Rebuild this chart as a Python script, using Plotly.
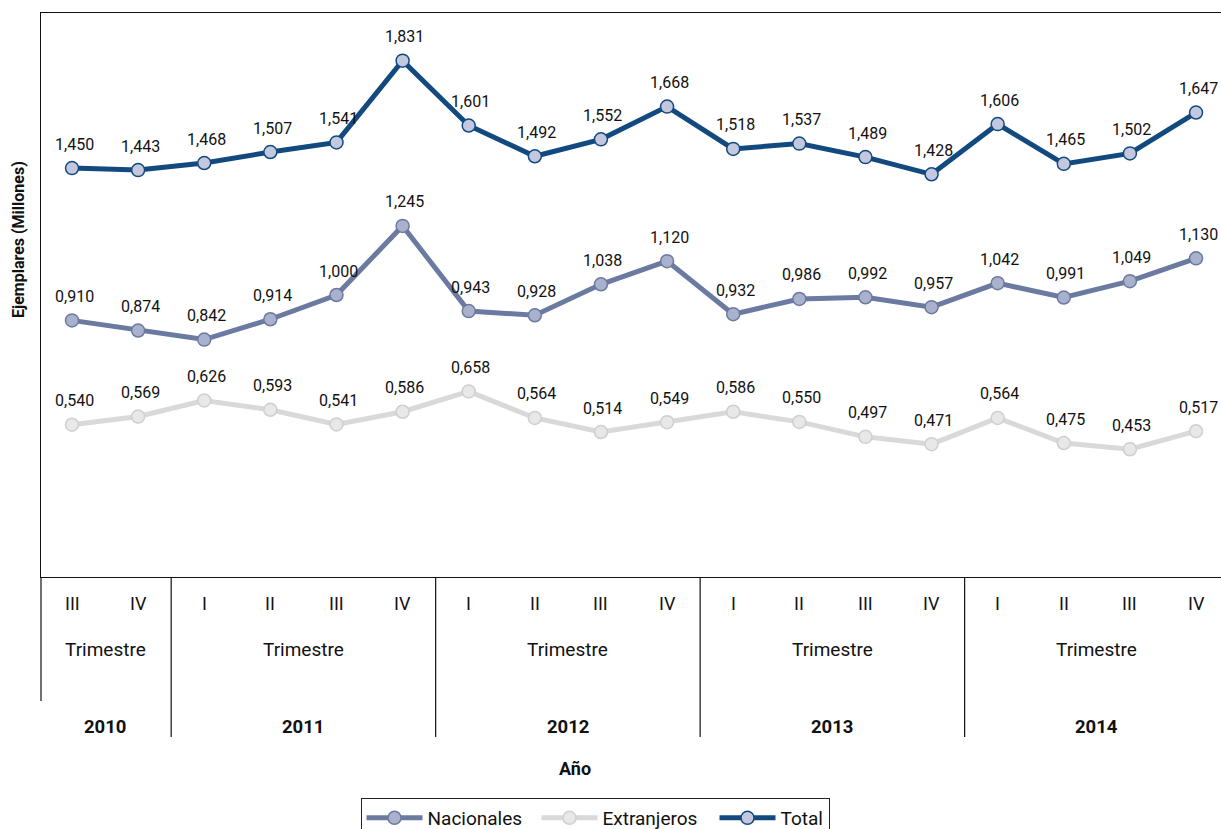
import plotly.graph_objects as go

years = ["2010", "2011", "2012", "2013", "2014"]
quarters_per_year = [["III", "IV"], ["I", "II", "III", "IV"], ["I", "II", "III", "IV"],
                     ["I", "II", "III", "IV"], ["I", "II", "III", "IV"]]
quarter_labels = [q for qs in quarters_per_year for q in qs]

nacionales = [0.910, 0.874, 0.842, 0.914, 1.000, 1.245, 0.943, 0.928, 1.038, 1.120,
              0.932, 0.986, 0.992, 0.957, 1.042, 0.991, 1.049, 1.130]
extranjeros = [0.540, 0.569, 0.626, 0.593, 0.541, 0.586, 0.658, 0.564, 0.514, 0.549,
               0.586, 0.550, 0.497, 0.471, 0.564, 0.475, 0.453, 0.517]
total = [1.450, 1.443, 1.468, 1.507, 1.541, 1.831, 1.601, 1.492, 1.552, 1.668,
         1.518, 1.537, 1.489, 1.428, 1.606, 1.465, 1.502, 1.647]

FONT = "Roboto"
W, H = 1221, 829
ML, MT, MB, MR = 41, 13, 252, 0
PH = H - MT - MB
PW = W - ML - MR

x = list(range(len(quarter_labels)))

def fmt(v):
    return f"{v:.3f}".replace(".", ",")

series = [
    ("Nacionales", nacionales, "#6b7aa1", "#a9b1cd", "#6b7aa1", 104),
    ("Extranjeros", extranjeros, "#d9d9d9", "#e8e8ea", "#cfcfcf", 107),
    ("Total", total, "#124a80", "#c3c8df", "#124a80", None),
]

fig = go.Figure()
annotations = []
for name, vals, lc, mfill, mline, lw in series:
    tr = go.Scatter(
        x=x, y=vals, name=name, mode="lines+markers",
        line=dict(color=lc, width=5),
        marker=dict(size=13, color=mfill, line=dict(color=mline, width=1.5)),
        cliponaxis=False,
    )
    if lw:
        tr.legendwidth = lw
    fig.add_trace(tr)
    for i, v in zip(x, vals):
        annotations.append(dict(x=i, y=v, xref="x", yref="y", text=fmt(v), showarrow=False,
                                yshift=24, xshift=2, yanchor="middle",
                                font=dict(family=FONT, size=16, color="#111")))

def py(p):
    return (H - MB - p) / PH

for i, q in enumerate(quarter_labels):
    annotations.append(dict(x=i, xref="x", y=py(603), yref="paper", text=q, showarrow=False,
                            font=dict(family=FONT, size=18, color="#111"), yanchor="middle"))

starts = []
s = 0
for qs in quarters_per_year:
    starts.append(s)
    s += len(qs)
for k, (yr, qs) in enumerate(zip(years, quarters_per_year)):
    a = starts[k] - 0.5
    b = starts[k] + len(qs) - 0.5
    c = (a + b) / 2
    annotations.append(dict(x=c, xref="x", y=py(649), yref="paper", text="Trimestre", showarrow=False,
                            font=dict(family=FONT, size=19, color="#111"), yanchor="middle"))
    annotations.append(dict(x=c, xref="x", y=py(727), yref="paper", text=f"<b>{yr}</b>", showarrow=False,
                            font=dict(family=FONT, size=18.5, color="#111"), yanchor="middle"))

annotations.append(dict(x=(575 - ML) / PW, xref="paper", y=py(768), yref="paper",
                        text="<b>Año</b>", showarrow=False, font=dict(family=FONT, size=18, color="#111"),
                        yanchor="middle"))
annotations.append(dict(x=(18 - ML) / PW, xref="paper", y=py(240), yref="paper",
                        text="<b>Ejemplares (Millones)</b>", showarrow=False, textangle=-90,
                        font=dict(family=FONT, size=16, color="#111"), xanchor="center", yanchor="middle"))

shapes = []
for k in range(1, len(starts)):
    shapes.append(dict(type="line", xref="x", yref="paper", x0=starts[k] - 0.5, x1=starts[k] - 0.5,
                       y0=0, y1=py(737), line=dict(color="#111", width=1.2)))
shapes.append(dict(type="line", xref="paper", yref="paper", x0=0, x1=0, y0=0, y1=py(701),
                   line=dict(color="#111", width=1.2)))

step = 66.12
xr0 = -(72 - ML) / step
xr1 = xr0 + PW / step

fig.update_layout(
    width=W, height=H,
    margin=dict(l=ML, r=MR, t=MT, b=MB, autoexpand=False),
    paper_bgcolor="white", plot_bgcolor="white",
    font=dict(family=FONT, color="#111"),
    xaxis=dict(range=[xr0, xr1], showgrid=False, zeroline=False, showticklabels=False,
               ticks="", showline=True, linecolor="#111", linewidth=1.2, mirror=True),
    yaxis=dict(range=[0, PH / 282.0], showgrid=False, zeroline=False, showticklabels=False,
               ticks="", showline=True, linecolor="#111", linewidth=1.2),
    showlegend=True,
    legend=dict(orientation="h", x=(595 - ML) / PW, xanchor="center",
                y=py(798), yanchor="top", bordercolor="#222", borderwidth=1,
                font=dict(family=FONT, size=19, color="#111"), itemwidth=56,
                traceorder="normal", tracegroupgap=0),
    annotations=annotations, shapes=shapes,
)

fig.write_html("out.html", config={"displayModeBar": False},
               post_script="document.body.style.margin='0';")
